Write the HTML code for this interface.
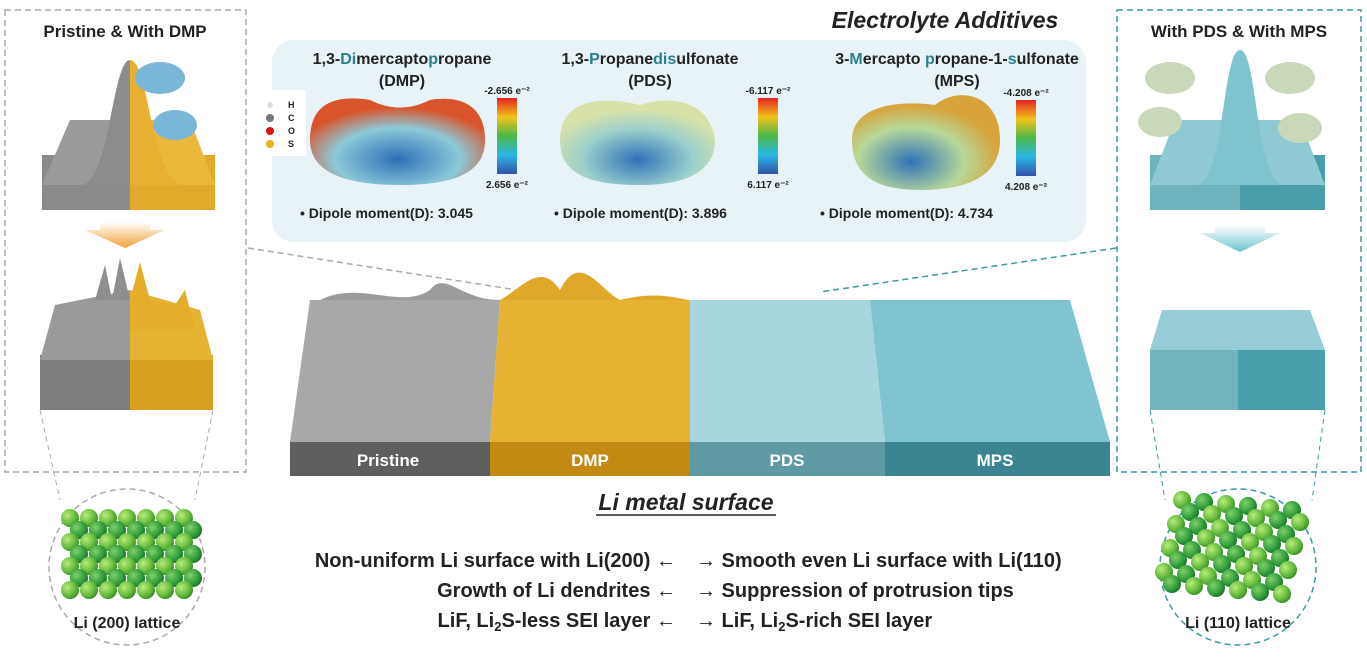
<!DOCTYPE html>
<html><head><meta charset="utf-8"><style>
body{margin:0;width:1367px;height:664px;background:#fff;overflow:hidden;font-family:"Liberation Sans",sans-serif;}
svg{position:absolute;left:0;top:0}
text{font-family:"Liberation Sans",sans-serif;font-weight:bold;fill:#222}
</style></head><body>
<svg width="1367" height="664" viewBox="0 0 1367 664">
<defs>
<linearGradient id="cb" x1="0" y1="0" x2="0" y2="1"><stop offset="0" stop-color="#e42323"/><stop offset=".25" stop-color="#f2c21a"/><stop offset=".5" stop-color="#4db848"/><stop offset=".75" stop-color="#2ab7e6"/><stop offset="1" stop-color="#3450a8"/></linearGradient>
<radialGradient id="mol1" cx=".5" cy=".7" r=".6"><stop offset="0" stop-color="#2d6fb8"/><stop offset=".6" stop-color="#8cc9d8"/><stop offset="1" stop-color="#d9542a"/></radialGradient>
<radialGradient id="mol2" cx=".5" cy=".7" r=".6"><stop offset="0" stop-color="#2f72b9"/><stop offset=".6" stop-color="#9bd0cc"/><stop offset="1" stop-color="#d8e2a8"/></radialGradient>
<radialGradient id="mol3" cx=".4" cy=".7" r=".6"><stop offset="0" stop-color="#2f72b9"/><stop offset=".6" stop-color="#b7d89a"/><stop offset="1" stop-color="#d8a33a"/></radialGradient>
<radialGradient id="ball" cx=".35" cy=".35" r=".7"><stop offset="0" stop-color="#b8ec7a"/><stop offset=".7" stop-color="#5fb63a"/><stop offset="1" stop-color="#3a8a25"/></radialGradient>
<radialGradient id="ball2" cx=".35" cy=".35" r=".7"><stop offset="0" stop-color="#7fd06a"/><stop offset=".7" stop-color="#2e9a3a"/><stop offset="1" stop-color="#1d6e25"/></radialGradient>
<linearGradient id="arrO" x1="0" y1="0" x2="0" y2="1"><stop offset="0" stop-color="#fff"/><stop offset="1" stop-color="#f2a23a"/></linearGradient>
<linearGradient id="arrB" x1="0" y1="0" x2="0" y2="1"><stop offset="0" stop-color="#fff"/><stop offset="1" stop-color="#6ec3cf"/></linearGradient>
</defs>

<rect x="5" y="10" width="241" height="462" fill="none" stroke="#aaa" stroke-width="1.5" stroke-dasharray="6,4"/>
<text x="125" y="37" font-size="17" text-anchor="middle">Pristine &amp; With DMP</text>
<g>
<polygon points="42,155 130,155 130,210 42,210" fill="#8a8a8a"/>
<polygon points="130,155 215,155 215,210 130,210" fill="#e2a92a"/>
<polygon points="70,120 130,120 130,185 42,185 " fill="#9a9a9a"/>
<polygon points="130,120 190,120 215,185 130,185" fill="#eab83a"/>
<path d="M80,185 C110,185 112,60 130,60 L130,185 Z" fill="#8c8c8c"/>
<path d="M130,60 C150,60 150,185 185,185 L130,185 Z" fill="#e8b030"/>
<ellipse cx="160" cy="78" rx="25" ry="16" fill="#7ab6d8"/><ellipse cx="175" cy="125" rx="22" ry="15" fill="#7ab6d8"/>
</g>
<polygon points="100,222 150,222 150,230 165,230 125,248 85,230 100,230" fill="url(#arrO)"/>
<g>
<polygon points="40,355 130,355 130,410 40,410" fill="#7e7e7e"/>
<polygon points="130,355 213,355 213,410 130,410" fill="#d9a020"/>
<polygon points="55,305 130,290 130,360 40,360" fill="#9a9a9a"/>
<polygon points="130,290 200,310 213,360 130,360" fill="#e6b232"/>
<path d="M95,300 L105,265 L112,300 L120,258 L130,300 Z" fill="#8e8e8e"/>
<path d="M130,300 L140,262 L150,300 L175,305 L185,290 L195,330 L130,330Z" fill="#e4ae2a"/>
</g>
<line x1="40" y1="410" x2="60" y2="500" stroke="#aaa" stroke-dasharray="5,4"/>
<line x1="213" y1="410" x2="195" y2="500" stroke="#aaa" stroke-dasharray="5,4"/>
<circle cx="127" cy="567" r="78" fill="#fff" stroke="#aaa" stroke-width="1.5" stroke-dasharray="6,4"/>
<g id="lat200"></g>
<text x="127" y="628" font-size="16" text-anchor="middle">Li (200) lattice</text>

<rect x="1117" y="10" width="244" height="462" fill="none" stroke="#3a9aa5" stroke-width="1.5" stroke-dasharray="6,4"/>
<text x="1239" y="37" font-size="17" text-anchor="middle">With PDS &amp; With MPS</text>
<g>
<polygon points="1150,155 1240,155 1240,210 1150,210" fill="#6fb3be"/>
<polygon points="1240,155 1325,155 1325,210 1240,210" fill="#4a9eac"/>
<polygon points="1175,120 1300,120 1325,185 1150,185" fill="#8fcad4"/>
<path d="M1195,185 C1225,185 1222,50 1240,50 C1258,50 1255,185 1285,185Z" fill="#7fc3cf"/>
<ellipse cx="1170" cy="78" rx="25" ry="16" fill="#c9d8b8"/><ellipse cx="1290" cy="78" rx="25" ry="16" fill="#c9d8b8"/>
<ellipse cx="1160" cy="122" rx="22" ry="15" fill="#c9d8b8"/><ellipse cx="1300" cy="128" rx="22" ry="15" fill="#c9d8b8"/>
</g>
<polygon points="1215,225 1265,225 1265,233 1280,233 1240,252 1200,233 1215,233" fill="url(#arrB)"/>
<g>
<polygon points="1150,350 1238,350 1238,410 1150,410" fill="#72b3bd"/>
<polygon points="1238,350 1325,350 1325,410 1238,410" fill="#4a9fad"/>
<polygon points="1162,310 1310,310 1325,350 1150,350" fill="#96ccd5"/>
</g>
<line x1="1150" y1="410" x2="1165" y2="500" stroke="#3a9aa5" stroke-dasharray="5,4"/>
<line x1="1325" y1="410" x2="1312" y2="500" stroke="#3a9aa5" stroke-dasharray="5,4"/>
<circle cx="1238" cy="567" r="78" fill="#fff" stroke="#3a9aa5" stroke-width="1.5" stroke-dasharray="6,4"/>
<g id="lat110"></g>
<text x="1238" y="628" font-size="16" text-anchor="middle">Li (110) lattice</text>

<text x="945" y="28" font-size="23" font-style="italic" text-anchor="middle">Electrolyte Additives</text>
<rect x="272" y="40" width="814" height="202" rx="22" fill="#e7f3f7"/>
<rect x="258" y="90" width="48" height="66" fill="#fff"/>
<g font-size="9">
<circle cx="270" cy="105" r="3" fill="#ddd"/><text x="288" y="108" font-size="9">H</text>
<circle cx="270" cy="118" r="4" fill="#777"/><text x="288" y="121" font-size="9">C</text>
<circle cx="270" cy="131" r="4" fill="#d11"/><text x="288" y="134" font-size="9">O</text>
<circle cx="270" cy="144" r="4" fill="#e6b31a"/><text x="288" y="147" font-size="9">S</text>
</g>
<g font-size="16" text-anchor="middle">
<text x="402" y="64">1,3-<tspan fill="#2b7f8c">Di</tspan>mercapto<tspan fill="#2b7f8c">p</tspan>ropane</text>
<text x="402" y="86">(DMP)</text>
<text x="650" y="64">1,3-<tspan fill="#2b7f8c">P</tspan>ropane<tspan fill="#2b7f8c">dis</tspan>ulfonate</text>
<text x="650" y="86">(PDS)</text>
<text x="957" y="64">3-<tspan fill="#2b7f8c">M</tspan>ercapto <tspan fill="#2b7f8c">p</tspan>ropane-1-<tspan fill="#2b7f8c">s</tspan>ulfonate</text>
<text x="957" y="86">(MPS)</text>
</g>
<path d="M310,140 C310,100 340,95 370,100 C390,110 410,110 430,100 C460,95 485,105 485,140 C485,170 460,185 400,185 C340,185 310,170 310,140Z" fill="url(#mol1)"/>
<path d="M560,140 C560,100 600,95 640,105 C670,95 710,100 715,140 C715,175 680,185 640,185 C590,185 560,175 560,140Z" fill="url(#mol2)"/>
<path d="M852,140 C852,105 900,100 935,105 C960,85 1000,95 1000,140 C1000,175 970,190 920,190 C875,190 852,175 852,140Z" fill="url(#mol3)"/>
<rect x="497" y="98" width="20" height="76" fill="url(#cb)"/>
<rect x="758" y="98" width="20" height="76" fill="url(#cb)"/>
<rect x="1016" y="100" width="20" height="76" fill="url(#cb)"/>
<g font-size="10" font-weight="normal" text-anchor="middle">
<text x="507" y="94">-2.656 e⁻²</text><text x="507" y="188">2.656 e⁻²</text>
<text x="768" y="94">-6.117 e⁻²</text><text x="768" y="188">6.117 e⁻²</text>
<text x="1026" y="96">-4.208 e⁻²</text><text x="1026" y="190">4.208 e⁻²</text>
</g>
<g font-size="14">
<text x="300" y="218">•   Dipole moment(D): 3.045</text>
<text x="554" y="218">•   Dipole moment(D): 3.896</text>
<text x="820" y="218">•   Dipole moment(D): 4.734</text>
</g>
<line x1="248" y1="248" x2="530" y2="292" stroke="#aaa" stroke-width="1.5" stroke-dasharray="6,4"/>
<line x1="1116" y1="248" x2="820" y2="292" stroke="#3a9aa5" stroke-width="1.5" stroke-dasharray="6,4"/>

<g>
<polygon points="310,300 500,300 490,442 290,442" fill="#a8a8a8"/>
<polygon points="500,300 690,300 690,442 490,442" fill="#e6b232"/>
<polygon points="690,300 870,300 885,442 690,442" fill="#a8d6df"/>
<polygon points="870,300 1070,300 1110,442 885,442" fill="#7fc4d0"/>
<path d="M320,300 C360,280 400,310 430,290 C445,270 460,300 500,300Z" fill="#9c9c9c"/>
<path d="M500,300 C520,290 540,260 560,290 C580,250 600,290 620,300 C660,290 680,300 690,300Z" fill="#e0a82a"/>
<rect x="290" y="442" width="200" height="34" fill="#5e5e5e"/>
<rect x="490" y="442" width="200" height="34" fill="#c28a12"/>
<rect x="690" y="442" width="195" height="34" fill="#5f99a3"/>
<rect x="885" y="442" width="225" height="34" fill="#3b8593"/>
</g>
<g font-size="17" text-anchor="middle">
<text x="388" y="466" style="fill:#fff">Pristine</text>
<text x="590" y="466" style="fill:#fff">DMP</text>
<text x="787" y="466" style="fill:#fff">PDS</text>
<text x="995" y="466" style="fill:#fff">MPS</text>
</g>
<text x="686" y="510" font-size="23" font-style="italic" text-anchor="middle">Li metal surface</text>
<line x1="596" y1="515" x2="776" y2="515" stroke="#222" stroke-width="1.5"/>
<g font-size="20">
<text x="676" y="567" text-anchor="end">Non-uniform Li surface with Li(200) ←</text>
<text x="676" y="597" text-anchor="end">Growth of Li dendrites ←</text>
<text x="676" y="627" text-anchor="end">LiF, Li<tspan font-size="13" dy="4">2</tspan><tspan dy="-4">S-less SEI layer ←</tspan></text>
<text x="696" y="567">→ Smooth even Li surface with Li(110)</text>
<text x="696" y="597">→ Suppression of protrusion tips</text>
<text x="696" y="627">→ LiF, Li<tspan font-size="13" dy="4">2</tspan><tspan dy="-4">S-rich SEI layer</tspan></text>
</g>
</svg>
<script>
var NS='http://www.w3.org/2000/svg';
var g1=document.getElementById('lat200');
for(var r=0;r<7;r++)for(var c=0;c<7;c++){var e=document.createElementNS(NS,'circle');


e.setAttribute('cx',70+c*19+(r%2?9:0));e.setAttribute('cy',518+r*12);e.setAttribute('r',9);
e.setAttribute('fill',r%2?'url(#ball2)':'url(#ball)');g1.appendChild(e);}
var g2=document.getElementById('lat110');
for(var r=0;r<8;r++)for(var c=0;c<6;c++){var e=document.createElementNS(NS,'circle');


e.setAttribute('cx',1182+c*22-r*3+(r%2?11:0));e.setAttribute('cy',500+r*12+c*2);e.setAttribute('r',9);
e.setAttribute('fill',(r+c)%2?'url(#ball2)':'url(#ball)');g2.appendChild(e);}
</script>
</body></html>
